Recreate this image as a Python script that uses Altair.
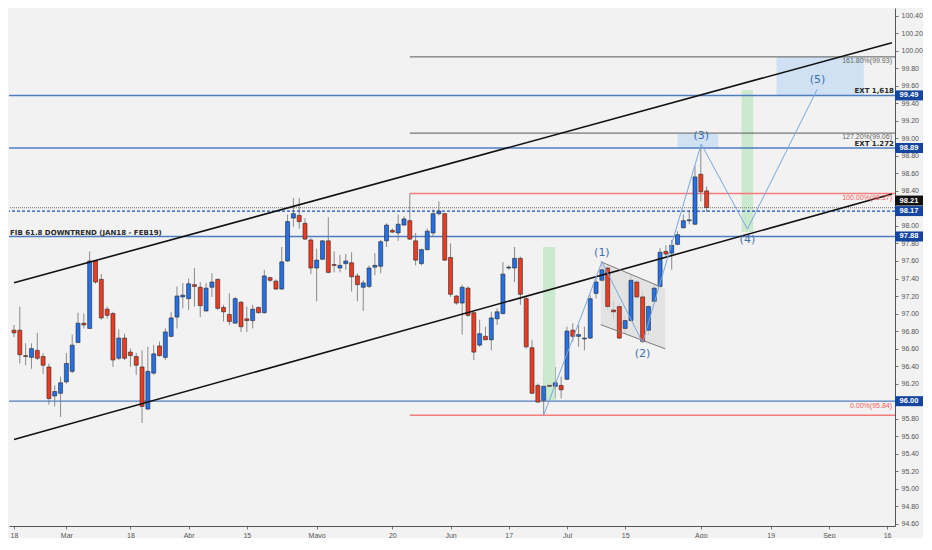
import altair as alt
import pandas as pd

# ---------------- data ----------------
# candle index 0 = 18 Feb (weekday index)
opens = [96.81, 96.81, 96.52, 96.50, 96.58, 96.51, 96.39, 96.06, 96.09, 96.22,
         96.34, 96.67, 96.89, 96.83, 97.60, 97.39, 97.05, 97.00, 96.49, 96.72,
         96.56, 96.51, 96.39, 95.91, 96.32, 96.63, 96.50, 96.74, 96.96, 97.19,
         97.17, 97.33, 97.30, 97.03, 97.30, 97.39, 97.07, 96.99, 96.89, 97.13,
         96.94, 96.92, 97.07, 97.01, 97.41, 97.37, 97.28, 97.60, 98.09, 98.12,
         98.03, 97.84, 97.52, 97.62, 97.83, 97.56, 97.52, 97.57, 97.58, 97.43,
         97.30, 97.31, 97.53, 97.54, 97.83, 97.95, 97.92, 98.01, 98.06, 97.83,
         97.57, 97.73, 97.92, 98.14, 98.14, 97.64, 97.20, 97.12, 97.29, 97.01,
         96.64, 96.74, 96.70, 96.94, 97.00, 97.52, 97.52, 97.63, 97.17, 96.61,
         96.18, 96.01, 96.18, 96.17, 96.18, 96.25, 96.81, 96.74, 96.71, 96.72,
         97.23, 97.38, 97.52, 97.04, 97.08, 96.83, 96.92, 97.36, 97.19, 96.81,
         97.14, 97.31, 97.71, 97.69, 97.79, 97.98, 98.06, 98.02, 98.59, 98.40]
highs = [96.87, 97.08, 96.66, 96.66, 96.78, 96.55, 96.43, 96.18, 96.28, 96.55,
         96.76, 97.01, 97.00, 97.71, 97.61, 97.45, 97.08, 97.02, 96.82, 96.77,
         96.60, 96.55, 96.58, 96.62, 96.64, 96.68, 96.83, 97.02, 97.31, 97.35,
         97.40, 97.52, 97.36, 97.35, 97.46, 97.40, 97.10, 97.23, 97.19, 97.14,
         97.08, 97.10, 97.08, 97.50, 97.42, 97.39, 97.76, 98.13, 98.32, 98.32,
         98.09, 97.86, 97.74, 97.84, 98.10, 97.71, 97.67, 97.68, 97.70, 97.46,
         97.38, 97.55, 97.69, 97.84, 98.03, 97.97, 98.13, 98.11, 98.37, 97.92,
         97.74, 97.97, 98.19, 98.28, 98.15, 97.80, 97.21, 97.33, 97.31, 97.02,
         96.93, 96.85, 97.02, 97.06, 97.59, 97.55, 97.76, 97.65, 97.19, 96.70,
         96.20, 96.36, 96.21, 96.39, 96.28, 96.85, 96.89, 96.87, 96.85, 97.21,
         97.40, 97.57, 97.54, 97.14, 97.12, 96.97, 97.44, 97.38, 97.25, 97.10,
         97.33, 97.75, 97.78, 97.84, 97.94, 98.13, 98.18, 98.68, 98.94, 98.45]
lows = [96.73, 96.43, 96.41, 96.37, 96.47, 96.31, 95.96, 95.94, 95.82, 96.20,
        96.32, 96.66, 96.83, 96.83, 97.34, 96.93, 96.94, 96.39, 96.47, 96.47,
        96.39, 96.30, 95.75, 95.90, 96.30, 96.51, 96.47, 96.73, 96.83, 97.06,
        97.04, 97.08, 96.96, 97.02, 97.19, 97.04, 96.91, 96.87, 96.89, 96.79,
        96.79, 96.83, 97.00, 97.00, 97.36, 97.27, 97.27, 97.59, 97.99, 97.97,
        97.84, 97.45, 97.14, 97.61, 97.46, 97.47, 97.47, 97.50, 97.25, 97.14,
        97.03, 97.29, 97.44, 97.46, 97.76, 97.92, 97.83, 98.01, 97.84, 97.55,
        97.55, 97.72, 97.88, 98.12, 97.60, 97.19, 97.10, 96.76, 96.96, 96.47,
        96.62, 96.70, 96.58, 96.87, 96.99, 97.50, 97.36, 97.10, 96.60, 96.08,
        95.98, 95.84, 96.13, 96.03, 96.03, 96.24, 96.68, 96.62, 96.58, 96.71,
        97.17, 97.36, 97.04, 96.93, 96.71, 96.77, 96.91, 97.17, 96.67, 96.76,
        97.13, 97.30, 97.65, 97.50, 97.78, 97.97, 98.02, 98.01, 98.28, 98.16]
closes = [96.78, 96.53, 96.51, 96.60, 96.49, 96.41, 96.03, 96.11, 96.21, 96.43,
          96.64, 96.89, 96.87, 97.60, 97.36, 96.95, 96.98, 96.47, 96.72, 96.49,
          96.52, 96.41, 95.94, 96.34, 96.54, 96.52, 96.79, 96.95, 97.20, 97.21,
          97.34, 97.31, 97.09, 97.29, 97.36, 97.06, 97.02, 96.91, 97.17, 96.85,
          96.92, 97.05, 97.01, 97.43, 97.38, 97.28, 97.59, 98.05, 98.14, 98.05,
          97.85, 97.52, 97.61, 97.83, 97.47, 97.55, 97.55, 97.60, 97.42, 97.33,
          97.35, 97.52, 97.55, 97.82, 98.01, 97.93, 98.02, 98.08, 97.85, 97.61,
          97.73, 97.94, 98.14, 98.17, 97.61, 97.22, 97.12, 97.30, 96.98, 96.56,
          96.77, 96.70, 96.95, 97.02, 97.45, 97.53, 97.63, 97.22, 96.62, 96.09,
          95.99, 96.17, 96.17, 96.21, 96.13, 96.80, 96.74, 96.76, 96.72, 97.17,
          97.36, 97.50, 97.08, 97.02, 96.72, 96.92, 97.38, 97.19, 96.68, 97.08,
          97.29, 97.70, 97.68, 97.78, 97.90, 98.06, 98.07, 98.56, 98.39, 98.21]

x_tick_values = [0, 9, 20, 30, 40, 52, 65, 75, 85, 95, 105, 118, 130, 140, 150]
x_tick_labels = ["18", "Mar", "18", "Abr", "15", "Mayo", "20", "Jun", "17",
                 "Jul", "15", "Ago", "19", "Sep", "16"]
# price-scale labels visible in the picture (96.00 and 98.20 sit under tags)
y_ticks = [94.6, 94.8, 95.0, 95.2, 95.4, 95.6, 95.8, 96.2, 96.4, 96.6,
           96.8, 97.0, 97.2, 97.4, 97.6, 97.8, 98.0, 98.4, 98.6, 98.8,
           99.0, 99.2, 99.4, 99.6, 99.8, 100.0, 100.2, 100.4]

blue_levels = [99.49, 98.89, 97.88, 96.00]
current_price = 98.21
dashed_level = 98.17
tag_prices = [99.49, 98.89, 98.17, 97.88, 96.00]

fib_start = 68
fib_grey_levels = [99.93, 99.06]
fib_red_levels = [98.37, 95.84]
fib_grey_texts = ["161.80%(99.93)", "127.20%(99.06)"]
fib_red_texts = ["100.00%(98.37)", "0.00%(95.84)"]
fib_grey_text_y = [99.88, 99.015]
fib_red_text_y = [98.32, 95.94]

ext_texts = ["EXT 1,618", "EXT 1.272"]
ext_y = [99.54, 98.93]
fib_note = "FIB 61.8 DOWNTREND (JAN18 - FEB19)"
fib_note_y = 97.925

# channel lines (start / end)
chan_x1 = [0, 0]
chan_y1 = [97.351, 95.563]
chan_x2 = [150.84, 150.84]
chan_y2 = [100.092, 98.365]

# elliott wave path and labels
wave_x = [91, 101, 108, 118.06, 126, 138]
wave_y = [95.84, 97.59, 96.67, 98.935, 97.965, 99.56]
wave_labels = ["(1)", "(2)", "(3)", "(4)", "(5)"]
wave_label_x = [101.0, 108.0, 118.06, 126.0, 138.05]
wave_label_y = [97.69, 96.54, 99.027, 97.84, 99.666]

# zones
blue_box_x = [131, 114]
blue_box_x2 = [146, 121]
blue_box_y = [99.49, 98.89]
blue_box_y2 = [99.93, 99.05]
green_box_x = [90.9, 125]
green_box_x2 = [93.0, 127]
green_box_y = [96.01, 97.93]
green_box_y2 = [97.76, 99.55]

# flag channel
flag_x = [100.8, 111.9]
flag_top = [97.592, 97.283]
flag_bot = [96.873, 96.597]
flag_seg_x1 = [100.8, 100.8]
flag_seg_y1 = [97.592, 96.873]
flag_seg_x2 = [110.75, 111.9]
flag_seg_y2 = [97.315, 96.597]

# ---------------- chart ----------------
W, H = 886, 518
BG = "#f2f2f2"
BLUE_UP = "#2370e8"
RED_DN = "#f03a20"

xs = alt.Scale(domain=[0, 150.5], nice=False, zero=False)
ys = alt.Scale(domain=[94.575, 100.488], nice=False, zero=False)

arr_v = ",".join(str(v) for v in x_tick_values)
arr_l = ",".join("'" + s + "'" for s in x_tick_labels)
x_label_expr = f"[{arr_l}][indexof([{arr_v}], datum.value)]"

x_axis = alt.Axis(values=x_tick_values, labelExpr=x_label_expr, grid=False,
                  tickSize=3, labelFontSize=7, labelFont="Liberation Sans",
                  labelColor="#555555", domainColor="#555555", tickColor="#777777",
                  labelPadding=2, title=None, labelFlush=True, labelOverlap=False)
y_axis = alt.Axis(values=y_ticks, format=".2f", orient="right", grid=False,
                  tickSize=3, labelFontSize=7, labelFont="Liberation Sans",
                  labelColor="#555555", domainColor="#555555", tickColor="#777777",
                  labelPadding=3, title=None, labelFlush=False, labelOverlap=False)


def X(f):
    return alt.X(f, scale=xs, axis=x_axis)


def Y(f):
    return alt.Y(f, scale=ys, axis=y_axis)


candles = pd.DataFrame({"i": list(range(len(opens))), "o": opens, "h": highs,
                        "l": lows, "c": closes})
ups = candles[candles["c"] >= candles["o"]]
downs = candles[candles["c"] < candles["o"]]

wicks = alt.Chart(candles).mark_rule(color="#8a8a8a", strokeWidth=1, clip=True).encode(
    x=X("i:Q"), y=Y("l:Q"), y2="h:Q")
bodies_up = alt.Chart(ups).mark_bar(size=4, color=BLUE_UP, stroke="#262626",
                                    strokeWidth=0.6, clip=True).encode(
    x=X("i:Q"), y=Y("o:Q"), y2="c:Q")
bodies_dn = alt.Chart(downs).mark_bar(size=4, color=RED_DN, stroke="#262626",
                                      strokeWidth=0.6, clip=True).encode(
    x=X("i:Q"), y=Y("o:Q"), y2="c:Q")


def rects(xa, xb, ya, yb, color):
    return alt.Chart(pd.DataFrame({"x": xa, "x2": xb, "y": ya, "y2": yb})).mark_rect(
        color=color, clip=True).encode(x=X("x:Q"), x2="x2:Q", y=Y("y:Q"), y2="y2:Q")


blue_boxes = rects(blue_box_x, blue_box_x2, blue_box_y, blue_box_y2, "#cfe1f2")
green_boxes = rects(green_box_x, green_box_x2, green_box_y, green_box_y2, "#cbe9cf")

flag_area = alt.Chart(pd.DataFrame({"x": flag_x, "t": flag_top, "b": flag_bot})).mark_area(
    color="#dedede", opacity=0.75, clip=True).encode(x=X("x:Q"), y=Y("t:Q"), y2="b:Q")


def fib_rules(levels, color, width):
    return alt.Chart(pd.DataFrame({"x": [fib_start] * len(levels), "y": levels})).mark_rule(
        strokeWidth=width, color=color, clip=True).encode(
        x=X("x:Q"), x2=alt.value(W), y=Y("y:Q"))


fib_grey = fib_rules(fib_grey_levels, "#5a5a5a", 1)
fib_red = fib_rules(fib_red_levels, "#f47c7c", 1.5)

blue_lines = alt.Chart(pd.DataFrame({"y": blue_levels})).mark_rule(
    color="#4f7cc0", strokeWidth=1.4).encode(y=Y("y:Q"))
dotted_line = alt.Chart(pd.DataFrame({"y": [current_price]})).mark_rule(
    color="#8c8c8c", strokeWidth=1.2, strokeDash=[1, 1]).encode(y=Y("y:Q"))
dashed_line = alt.Chart(pd.DataFrame({"y": [dashed_level]})).mark_rule(
    color="#1b4fc0", strokeWidth=1.2, strokeDash=[3, 2]).encode(y=Y("y:Q"))


def segs(xa, ya, xb, yb, color, width):
    return alt.Chart(pd.DataFrame({"x": xa, "y": ya, "x2": xb, "y2": yb})).mark_rule(
        color=color, strokeWidth=width, clip=True).encode(
        x=X("x:Q"), x2="x2:Q", y=Y("y:Q"), y2="y2:Q")


chan = segs(chan_x1, chan_y1, chan_x2, chan_y2, "#111111", 1.6)
flag_lines = segs(flag_seg_x1, flag_seg_y1, flag_seg_x2, flag_seg_y2, "#7a7a7a", 1)

wave = alt.Chart(pd.DataFrame({"x": wave_x, "y": wave_y,
                               "k": list(range(len(wave_x)))})).mark_line(
    color="#7aa6dc", strokeWidth=1, clip=True).encode(
    x=X("x:Q"), y=Y("y:Q"), order="k:Q")

wave_text = alt.Chart(pd.DataFrame({"x": wave_label_x, "y": wave_label_y,
                                    "t": wave_labels})).mark_text(
    font="DejaVu Sans", fontSize=11, color="#3f6fae", baseline="middle",
    align="center").encode(x=X("x:Q"), y=Y("y:Q"), text="t:N")


def right_texts(ys_, ts, color, font, weight, xpos):
    return alt.Chart(pd.DataFrame({"y": ys_, "t": ts})).mark_text(
        font=font, fontSize=7, fontWeight=weight, color=color, align="right",
        baseline="middle").encode(x=alt.value(xpos), y=Y("y:Q"), text="t:N")


fib_grey_text = right_texts(fib_grey_text_y, fib_grey_texts, "#666666",
                            "Liberation Sans", "normal", W - 3)
fib_red_text = right_texts(fib_red_text_y, fib_red_texts, "#f25a5a",
                           "Liberation Sans", "normal", W - 3)
ext_text = right_texts(ext_y, ext_texts, "#2a2a2a", "DejaVu Sans", "bold", W - 1)

note_text = alt.Chart(pd.DataFrame({"y": [fib_note_y], "t": [fib_note]})).mark_text(
    font="DejaVu Sans", fontSize=7, fontWeight="bold", color="#2a2a2a",
    align="left", baseline="middle").encode(x=alt.value(1), y=Y("y:Q"), text="t:N")

tag_df = pd.DataFrame({"y": tag_prices, "t": [f"{p:.2f}" for p in tag_prices]})
tags = alt.Chart(tag_df).mark_tick(orient="horizontal", thickness=10, size=28,
                                   color="#1446a0", opacity=1).encode(
    x=alt.value(W + 14), y=Y("y:Q"))
tag_text = alt.Chart(tag_df).mark_text(
    font="Liberation Sans", fontSize=7.5, fontWeight="bold", color="white",
    align="center", baseline="middle").encode(
    x=alt.value(W + 14), y=Y("y:Q"), text="t:N")

cur_df = pd.DataFrame({"y": [current_price], "t": [f"{current_price:.2f}"]})
cur_tag = alt.Chart(cur_df).mark_tick(orient="horizontal", thickness=10, size=28,
                                      color="#111111", opacity=1, yOffset=-7).encode(
    x=alt.value(W + 14), y=Y("y:Q"))
cur_text = alt.Chart(cur_df).mark_text(
    font="Liberation Sans", fontSize=7.5, fontWeight="bold", color="white",
    align="center", baseline="middle", yOffset=-7).encode(
    x=alt.value(W + 14), y=Y("y:Q"), text="t:N")

chart = alt.layer(
    wicks, blue_boxes, green_boxes, flag_area, fib_grey, fib_red, blue_lines,
    dotted_line, dashed_line, bodies_up, bodies_dn, chan, flag_lines, wave,
    wave_text, fib_grey_text, fib_red_text, ext_text, note_text, tags, tag_text,
    cur_tag, cur_text,
).properties(width=W, height=H, padding=0, background=BG).configure_view(
    stroke=None)

chart.save("out.html", embed_options={"renderer": "svg", "actions": False})
